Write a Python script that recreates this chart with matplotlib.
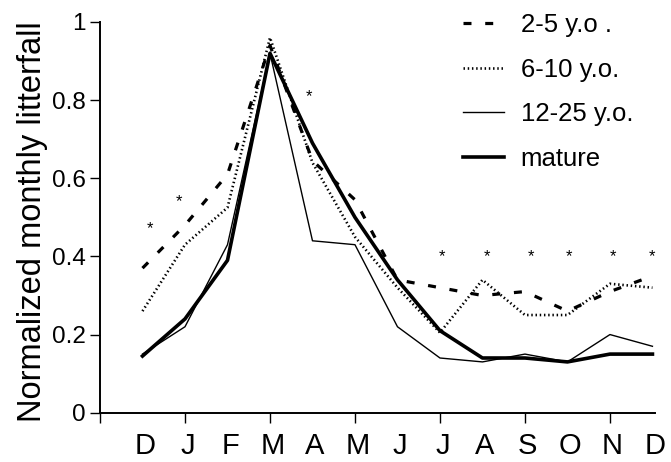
# %% Libraries
import numpy as np
import matplotlib
matplotlib.use("Agg")
import matplotlib.pyplot as plt

# %% Data
# --+ months (Dec to Dec)
months = ['D', 'J', 'F', 'M', 'A', 'M', 'J', 'J', 'A', 'S', 'O', 'N', 'D']
# --+ normalized monthly litterfall per stand age
yo_2_5 = [0.37, 0.48, 0.61, 0.94, 0.645, 0.545, 0.34, 0.32, 0.30, 0.31, 0.26, 0.31, 0.35]
yo_6_10 = [0.26, 0.43, 0.525, 0.96, 0.64, 0.45, 0.32, 0.205, 0.34, 0.25, 0.25, 0.33, 0.32]
yo_12_25 = [0.15, 0.22, 0.43, 0.92, 0.44, 0.43, 0.22, 0.14, 0.13, 0.15, 0.13, 0.20, 0.17]
mature = [0.145, 0.24, 0.39, 0.92, 0.69, 0.50, 0.34, 0.21, 0.14, 0.14, 0.13, 0.15, 0.15]
# --+ significance asterisks (month position, value)
star_x = [0.18, 0.87, 3.91, 7.05, 8.11, 9.14, 10.04, 11.06, 12.0]
star_y = [0.47, 0.54, 0.81, 0.40, 0.40, 0.40, 0.40, 0.40, 0.40]
# --+ y ticks
y_ticks = [0, 0.2, 0.4, 0.6, 0.8, 1]
y_ticklabels = ['0', '0.2', '0.4', '0.6', '0.8', '1']

# %% Style
plt.rcParams['font.family'] = ['Liberation Sans', 'DejaVu Sans']

# %% Plot
fig = plt.figure(figsize=(6.71, 4.62), dpi=100)
ax = fig.add_axes([100 / 671, 1 - 412.7 / 462, 555 / 671, 390.7 / 462])
x = np.arange(len(months))

ax.plot(x, yo_2_5, color='black', lw=2.3, linestyle=(0, (2.5, 4.3)),
        dash_capstyle='butt', clip_on=False, label='2-5 y.o .')
ax.plot(x, yo_6_10, color='black', lw=1.9, linestyle=(0, (0.55, 1.05)),
        dash_capstyle='butt', clip_on=False, label='6-10 y.o.')
ax.plot(x, yo_12_25, color='black', lw=1.0, clip_on=False, label='12-25 y.o.')
ax.plot(x, mature, color='black', lw=2.6, clip_on=False, label='mature')

# --+ asterisks
for sx, sy in zip(star_x, star_y):
    ax.text(sx, sy, '*', ha='center', va='center', fontsize=12, clip_on=False)

# --+ axes
ax.set_xlim(-1, 12)
ax.set_ylim(0, 1)
ax.spines['top'].set_visible(False)
ax.spines['right'].set_visible(False)
ax.spines['left'].set_linewidth(1.4)
ax.spines['bottom'].set_linewidth(1.4)

ax.set_yticks(y_ticks)
ax.set_yticklabels(y_ticklabels, fontsize=17.5)
ax.tick_params(axis='y', direction='out', length=7, width=1.0, pad=3)

# --+ ticks between months, labels on months
ax.xaxis.remove_overlapping_locs = False
ax.set_xticks(np.arange(-1, 12, 2))
ax.set_xticklabels([])
ax.tick_params(axis='x', which='major', direction='out', length=7, width=1.0)
ax.set_xticks(x + 0.06, minor=True)
ax.set_xticklabels(months, minor=True, fontsize=21)
ax.tick_params(axis='x', which='minor', length=0, pad=14)

ax.set_ylabel('Normalized monthly litterfall', fontsize=23.5)
ax.yaxis.set_label_coords(-0.094, 0.49)

# --+ legend
ax.legend(loc='upper left', bbox_to_anchor=(463 / 671, 1 - 13 / 462),
          bbox_transform=fig.transFigure, frameon=False, fontsize=18.5,
          handlelength=1.6, handletextpad=0.65, labelspacing=0.8,
          borderpad=0, borderaxespad=0)

fig.savefig('out.png', dpi=100)
